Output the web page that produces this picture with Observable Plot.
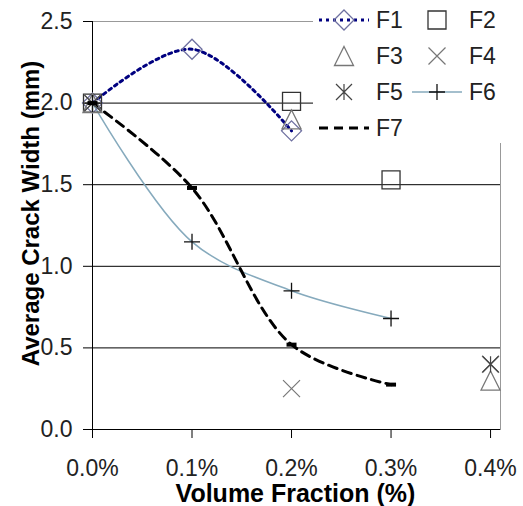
<!DOCTYPE html>
<html><head><meta charset="utf-8">
<script src="https://cdn.jsdelivr.net/npm/d3@7"></script>
<script src="https://cdn.jsdelivr.net/npm/@observablehq/plot@0.6"></script>
<style>
body{margin:0;background:#fff;}
#wrap{position:relative;width:523px;height:506px;font-family:"Liberation Sans",Arial,sans-serif;}
#legend{position:absolute;left:313px;top:0;background:#fff;}
</style></head><body><div id="wrap"></div>
<script>
// ---- data ----
const volume = [0, 0.1, 0.2, 0.3, 0.4];
const seriesNames = ["F1", "F2", "F3", "F4", "F5", "F6", "F7"];
const F1 = [2.0, 2.33, 1.83, null, null];
const F2 = [2.0, null, 2.01, 1.53, null];
const F3 = [2.0, null, 1.9, null, 0.3];
const F4 = [2.0, null, 0.25, null, 0.4];
const F5 = [2.0, null, null, null, 0.4];
const F6 = [2.0, 1.15, 0.85, 0.68, null];
const F7 = [2.0, 1.48, 0.52, 0.275, null];
const yTicks = [0, 0.5, 1.0, 1.5, 2.0, 2.5];
const xTicks = [0, 0.1, 0.2, 0.3, 0.4];
const xTitle = "Volume Fraction (%)";
const yTitle = "Average Crack Width (mm)";

const seriesValues = {F1, F2, F3, F4, F5, F6, F7};
const rows = seriesNames.flatMap(s => volume.map((v, i) => ({series: s, x: v, y: seriesValues[s][i]})).filter(d => d.y != null));
const of = s => rows.filter(d => d.series === s);

// ---- symbols ----
const sym = f => ({draw(ctx, size) { f(ctx, Math.sqrt(size / Math.PI)); }});
const symbols = {
  diamond: sym((c, r) => { c.moveTo(0, -r); c.lineTo(r, 0); c.lineTo(0, r); c.lineTo(-r, 0); c.closePath(); }),
  square: sym((c, r) => { c.moveTo(-r, -r); c.lineTo(r, -r); c.lineTo(r, r); c.lineTo(-r, r); c.closePath(); }),
  triangle: sym((c, r) => { c.moveTo(0, -r); c.lineTo(r, r); c.lineTo(-r, r); c.closePath(); }),
  times: sym((c, r) => { c.moveTo(-r, -r); c.lineTo(r, r); c.moveTo(-r, r); c.lineTo(r, -r); }),
  asterisk: sym((c, r) => { c.moveTo(-r, -r); c.lineTo(r, r); c.moveTo(-r, r); c.lineTo(r, -r); c.moveTo(0, -r); c.lineTo(0, r); }),
  plus: sym((c, r) => { c.moveTo(-r, 0); c.lineTo(r, 0); c.moveTo(0, -r); c.lineTo(0, r); }),
  dash: sym((c, r) => { c.moveTo(-r, -r * 0.4); c.lineTo(r, -r * 0.4); c.lineTo(r, r * 0.4); c.lineTo(-r, r * 0.4); c.closePath(); })
};
const styles = {
  F1: {symbol: "diamond", r: 10, stroke: "#6e70a0", fill: "none", sw: 1.3, line: {stroke: "#000080", strokeWidth: 3, strokeDasharray: "3,4"}},
  F2: {symbol: "square", r: 9, stroke: "#333", fill: "none", sw: 1.3},
  F3: {symbol: "triangle", r: 9.5, stroke: "#777", fill: "none", sw: 1.3},
  F4: {symbol: "times", r: 8.5, stroke: "#777", fill: "none", sw: 1.2},
  F5: {symbol: "asterisk", r: 8, stroke: "#444", fill: "none", sw: 1.2},
  F6: {symbol: "plus", r: 8, stroke: "#111", fill: "none", sw: 1.3, line: {stroke: "#86aabd", strokeWidth: 1.5}},
  F7: {symbol: "dash", r: 5, stroke: "none", fill: "#000", sw: 0, line: {stroke: "#000", strokeWidth: 3, strokeDasharray: "9,6"}}
};

const lineMarks = seriesNames.filter(s => styles[s].line).map(s =>
  Plot.line(of(s), {x: "x", y: "y", curve: "catmull-rom", ...styles[s].line}));
const dotMarks = seriesNames.map(s =>
  Plot.dot(of(s), {x: "x", y: "y", symbol: () => symbols[styles[s].symbol], r: styles[s].r,
    stroke: styles[s].stroke, fill: styles[s].fill, strokeWidth: styles[s].sw}));

const chart = Plot.plot({
  width: 523, height: 506,
  marginLeft: 92, marginRight: 23, marginTop: 21, marginBottom: 77,
  style: {fontFamily: "'Liberation Sans', Arial, sans-serif", fontSize: "19px", color: "#222", background: "#fff"},
  x: {domain: [0, 0.41]},
  y: {domain: [0, 2.5]},
  symbol: {type: "identity"},
  marks: [
    Plot.frame({stroke: "#999"}),
    Plot.gridY([0.5, 1.0, 1.5, 2.0], {stroke: "#000", strokeOpacity: 1}),
    Plot.axisY(yTicks, {tickSize: 9, tickFormat: () => "", label: null, stroke: "#000"}),
    Plot.axisX(xTicks, {tickSize: 9, tickFormat: () => "", label: null, stroke: "#000"}),
    Plot.text(yTicks, {y: d => d, frameAnchor: "left", dx: -20, textAnchor: "end", lineAnchor: "middle", text: d => d.toFixed(1), fontSize: 23, fill: "#222"}),
    Plot.text(xTicks, {x: d => d, frameAnchor: "bottom", dy: 39, textAnchor: "middle", lineAnchor: "middle", text: d => d.toFixed(1) + "%", fontSize: 23, fill: "#222"}),
    Plot.ruleX([0], {stroke: "#000"}),
    Plot.ruleY([0], {stroke: "#000"}),
    ...lineMarks,
    ...dotMarks,
    Plot.text([xTitle], {frameAnchor: "bottom", text: d => d, dy: 64, dx: -1, lineAnchor: "middle", textAnchor: "middle", fontSize: 25, fontWeight: "bold", fill: "#000"}),
    Plot.text([yTitle], {frameAnchor: "left", text: d => d, rotate: -90, dx: -61, dy: -12, lineAnchor: "middle", textAnchor: "middle", fontSize: 24, fontWeight: "bold", fill: "#000"})
  ]
});
const wrap = document.getElementById("wrap");
wrap.appendChild(chart);

// ---- legend ----
const legendLayout = [
  {s: "F1", col: 0, row: 0}, {s: "F2", col: 1, row: 0},
  {s: "F3", col: 0, row: 1}, {s: "F4", col: 1, row: 1},
  {s: "F5", col: 0, row: 2}, {s: "F6", col: 1, row: 2},
  {s: "F7", col: 0, row: 3}
];
const lg = d3.select(wrap).append("svg").attr("id", "legend").attr("width", 210).attr("height", 143);
lg.append("rect").attr("width", 210).attr("height", 143).attr("fill", "#fff");
legendLayout.forEach(({s, col, row}) => {
  const st = styles[s];
  const cx = col === 0 ? 31 : 124;   // symbol centre
  const cy = 20 + row * 36;
  const g = lg.append("g").attr("transform", `translate(${cx},${cy})`);
  if (st.line) {
    g.append("line").attr("x1", -25).attr("x2", 25).attr("y1", 0).attr("y2", 0)
      .attr("stroke", st.line.stroke).attr("stroke-width", st.line.strokeWidth)
      .attr("stroke-dasharray", st.line.strokeDasharray || null);
  }
  if (s !== "F7") {
    g.append("path").attr("d", d3.symbol(symbols[st.symbol], Math.PI * st.r * st.r)())
      .attr("fill", st.fill).attr("stroke", st.stroke).attr("stroke-width", st.sw);
  }
  lg.append("text").attr("x", cx + 32).attr("y", cy).attr("dy", "0.36em")
    .attr("font-size", 23).attr("fill", "#222").text(s);
});
</script></body></html>
